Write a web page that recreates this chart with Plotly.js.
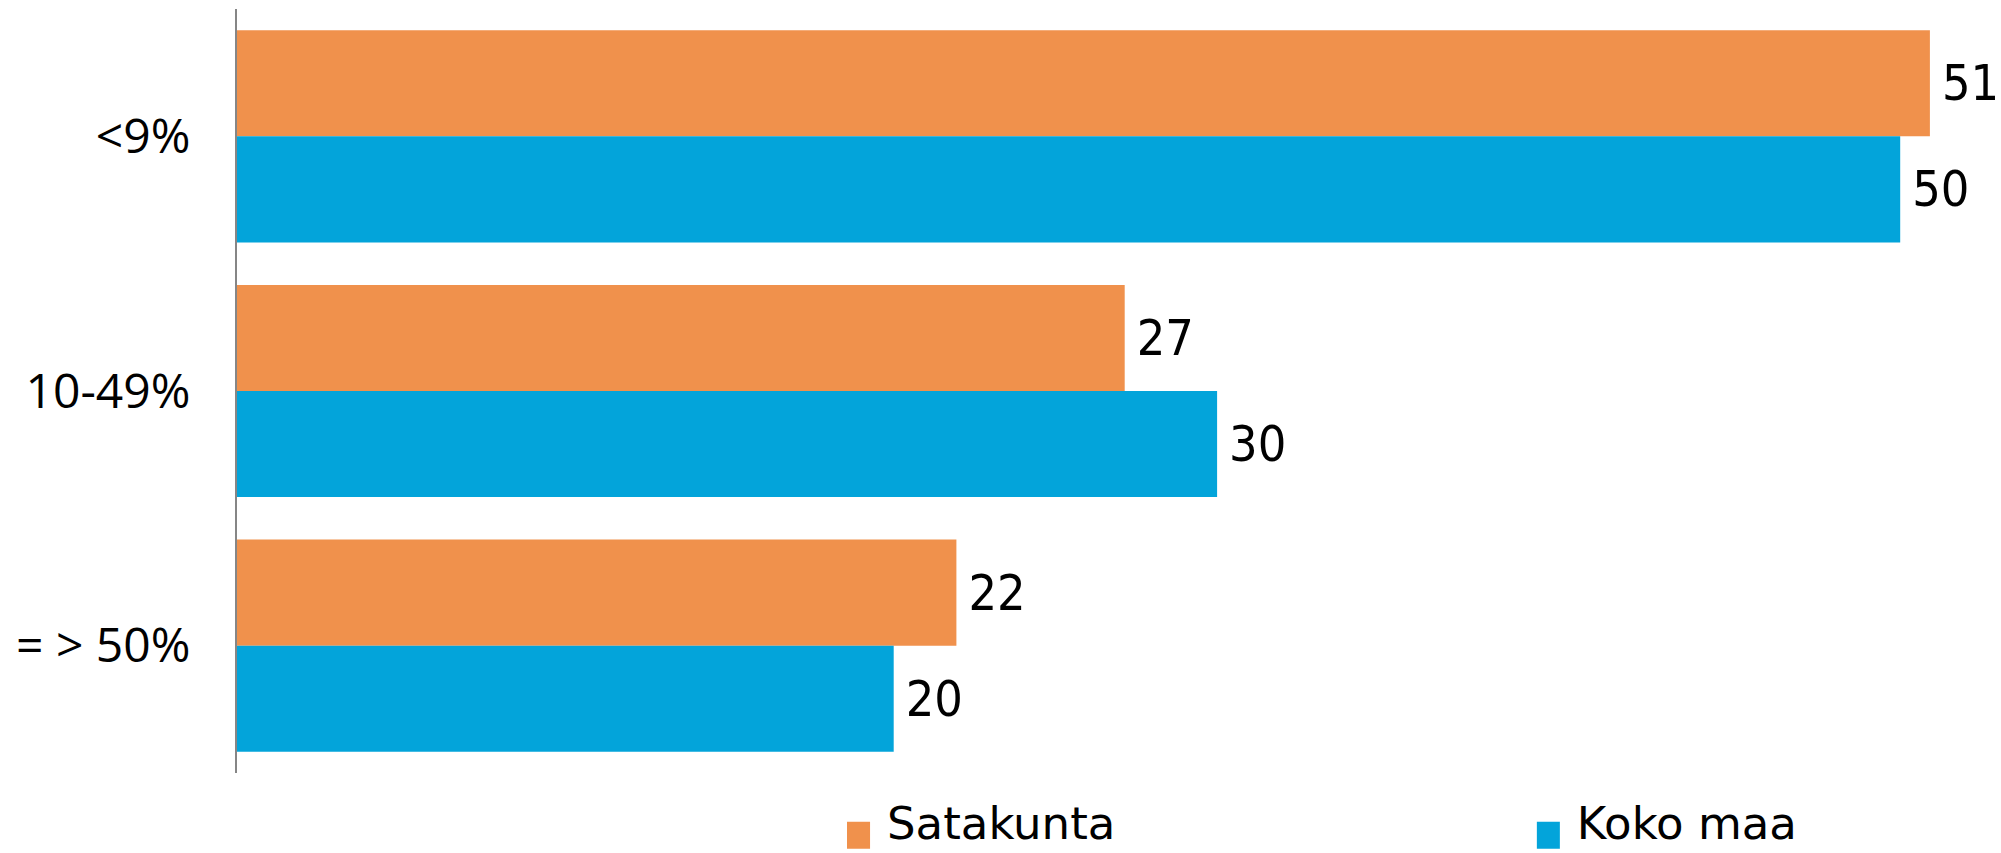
<!DOCTYPE html>
<html>
<head>
<meta charset="utf-8">
<script src="https://cdn.plot.ly/plotly-3.0.1.min.js"></script>
<style>
  html, body { margin: 0; padding: 0; background: #ffffff; }
  #chart { width: 2001px; height: 853px; }
</style>
</head>
<body>
<div id="chart"></div>
<script>
// Categories (top to bottom)
const categories = ["<9%", "10-49%", "= > 50%"];
// Series names
const seriesNames = ["Satakunta", "Koko maa"];
// Series values (bar lengths; labels show rounded values)
const satakuntaValues = [51.3, 26.9, 21.8];
const kokoMaaValues = [50.4, 29.7, 19.9];

const colors = { satakunta: "#F0914C", kokoMaa: "#03A4DA" };

const labelFont = { family: "'DejaVu Sans Condensed', 'DejaVu Sans', sans-serif", size: 50, color: "#000000" };

const traces = [
  {
    type: "bar",
    orientation: "h",
    name: seriesNames[0],
    legend: "legend",
    y: categories,
    x: satakuntaValues,
    marker: { color: colors.satakunta, line: { width: 0 } },
    texttemplate: "\u2009%{x:.0f}",
    textposition: "outside",
    textfont: labelFont,
    cliponaxis: false,
    hoverinfo: "none"
  },
  {
    type: "bar",
    orientation: "h",
    name: seriesNames[1],
    legend: "legend2",
    y: categories,
    x: kokoMaaValues,
    marker: { color: colors.kokoMaa, line: { width: 0 } },
    texttemplate: "\u2009%{x:.0f}",
    textposition: "outside",
    textfont: labelFont,
    cliponaxis: false,
    hoverinfo: "none"
  }
];

const legendFont = { family: "'DejaVu Sans', sans-serif", size: 45, color: "#000000" };

const layout = {
  width: 2001,
  height: 853,
  margin: { l: 237, r: 15, t: 9, b: 80, pad: 0 },
  paper_bgcolor: "#ffffff",
  plot_bgcolor: "#ffffff",
  barmode: "group",
  bargap: 0.167,
  bargroupgap: 0,
  showlegend: true,
  legend: {
    orientation: "h",
    x: 0.3488,
    xanchor: "left",
    yref: "container",
    y: 0,
    yanchor: "bottom",
    font: legendFont,
    bgcolor: "rgba(0,0,0,0)"
  },
  legend2: {
    orientation: "h",
    x: 0.7432,
    xanchor: "left",
    yref: "container",
    y: 0,
    yanchor: "bottom",
    font: legendFont,
    bgcolor: "rgba(0,0,0,0)"
  },
  xaxis: {
    range: [0, 53],
    showgrid: false,
    zeroline: false,
    showline: false,
    showticklabels: false,
    ticks: "",
    fixedrange: true
  },
  yaxis: {
    type: "category",
    autorange: "reversed",
    showgrid: false,
    zeroline: false,
    showline: true,
    linecolor: "#868686",
    linewidth: 2,
    ticks: "",
    ticklabelstandoff: 35,
    tickfont: { family: "'Open Sans', sans-serif", size: 48, color: "#000000" },
    fixedrange: true
  }
};

function fixLegend(gd) {
  gd.querySelectorAll("g.legend g.traces path, g.legend2 g.traces path").forEach(function (p) {
    p.setAttribute("d", "M3,27H-24V0H3Z");
    const t = p.getAttribute("transform") || "";
    if (/scale/.test(t)) p.setAttribute("transform", t.replace(/scale\([^)]*\)/g, ""));
  });
  gd.querySelectorAll("g.legend, g.legend2").forEach(function (g) {
    const cur = g.getAttribute("transform") || "";
    if (g.dataset.applied === cur) return;
    const m = cur.match(/translate\(\s*([-\d.eE]+)[ ,]+([-\d.eE]+)\s*\)/);
    if (!m) return;
    const next = "translate(" + m[1] + "," + (parseFloat(m[2]) + 5) + ")";
    g.setAttribute("transform", next);
    g.dataset.applied = next;
  });
}

Plotly.newPlot("chart", traces, layout, { staticPlot: true, displayModeBar: false }).then(function (gd) {
  fixLegend(gd);
  gd.on && gd.on("plotly_afterplot", function () { fixLegend(gd); });
  setTimeout(function () { fixLegend(gd); }, 300);
});
</script>
</body>
</html>
